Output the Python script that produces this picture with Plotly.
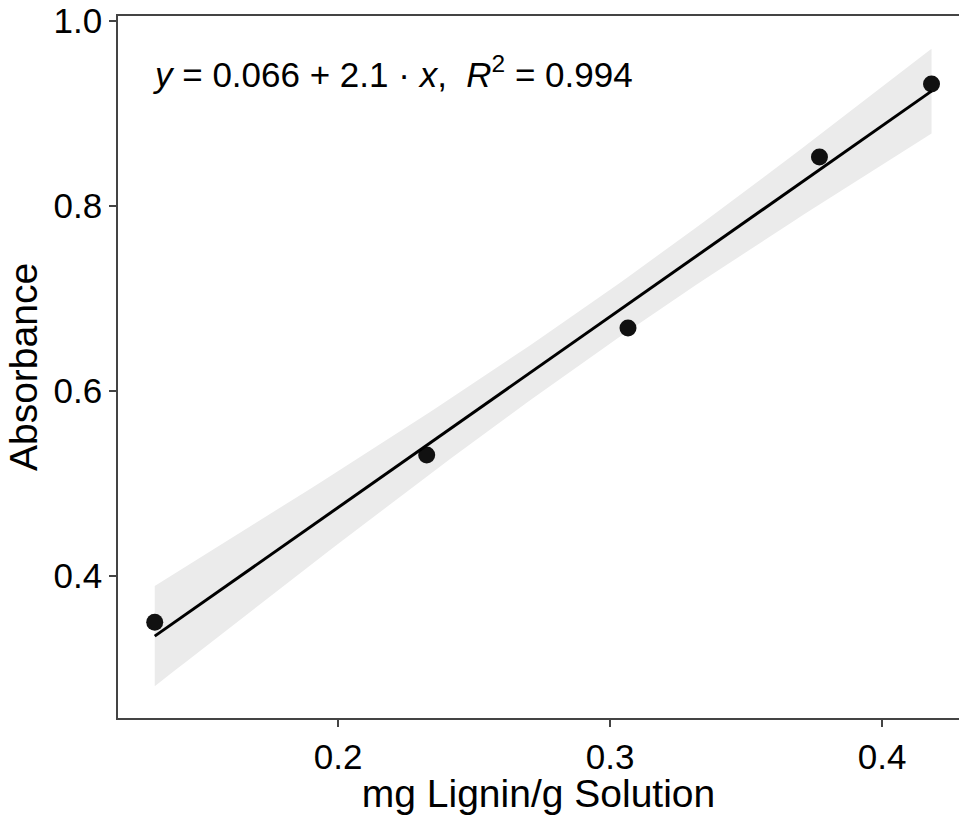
import numpy as np
import plotly.graph_objects as go

# Data
lignin = [0.1326, 0.2326, 0.3066, 0.3770, 0.4182]      # mg Lignin/g Solution
absorbance = [0.350, 0.5307, 0.668, 0.8527, 0.9316]     # Absorbance
x_ticks = [0.2, 0.3, 0.4]
y_ticks = [0.4, 0.6, 0.8, 1.0]
equation_label = "<i>y</i> = 0.066 + 2.1 · <i>x</i>,\u00a0\u00a0<i>R</i><sup>2</sup> = 0.994"

# Linear fit with 95% confidence band (as in ggplot geom_smooth(method='lm'))
x = np.array(lignin)
y = np.array(absorbance)
n = len(x)
slope, intercept = np.polyfit(x, y, 1)
resid = y - (intercept + slope * x)
s = np.sqrt(np.sum(resid ** 2) / (n - 2))
t_crit = 3.182  # t(0.975, df=3)
xg = np.linspace(x.min(), x.max(), 80)
yg = intercept + slope * xg
se = s * np.sqrt(1 / n + (xg - x.mean()) ** 2 / np.sum((x - x.mean()) ** 2))
upper = yg + t_crit * se
lower = yg - t_crit * se

fig = go.Figure()
fig.add_trace(go.Scatter(
    x=np.concatenate([xg, xg[::-1]]), y=np.concatenate([upper, lower[::-1]]),
    fill="toself", fillcolor="#ebebeb", line=dict(width=0), mode="lines",
    hoverinfo="skip", showlegend=False))
fig.add_trace(go.Scatter(
    x=x, y=y, mode="markers",
    marker=dict(size=17, color="#111111"), showlegend=False))
fig.add_trace(go.Scatter(
    x=xg, y=yg, mode="lines", line=dict(color="black", width=3),
    showlegend=False))

fig.add_annotation(
    text=equation_label, xref="paper", yref="paper",
    x=(151 - 118) / 841, y=1 - (72 - 16) / 702,
    xanchor="left", yanchor="middle", showarrow=False,
    font=dict(family="Liberation Sans, Arial", size=35, color="black"))

axis_font = dict(family="Liberation Sans, Arial", size=35, color="black")
title_font = dict(family="Liberation Sans, Arial", size=39, color="black")

fig.update_layout(
    width=959, height=815,
    margin=dict(l=118, r=0, t=16, b=97),
    paper_bgcolor="white", plot_bgcolor="white",
    xaxis=dict(
        range=[0.1191, 0.4283], tickvals=x_ticks, ticktext=[str(v) for v in x_ticks],
        showgrid=False, zeroline=False, showline=True, mirror=True,
        linecolor="#444444", linewidth=1.6,
        ticks="outside", ticklen=7, tickwidth=1.5, tickcolor="#444444",
        tickfont=axis_font,
        title=dict(text="mg Lignin/g Solution", font=title_font, standoff=8)),
    yaxis=dict(
        range=[0.2466, 1.0051], tickvals=y_ticks, ticktext=[f"{v:.1f}" for v in y_ticks],
        showgrid=False, zeroline=False, showline=True, mirror=False,
        linecolor="#444444", linewidth=1.6,
        ticks="outside", ticklen=7, tickwidth=1.5, tickcolor="#444444",
        tickfont=axis_font,
        title=dict(text="Absorbance", font=title_font, standoff=4)),
)

fig.write_html("out.html")
